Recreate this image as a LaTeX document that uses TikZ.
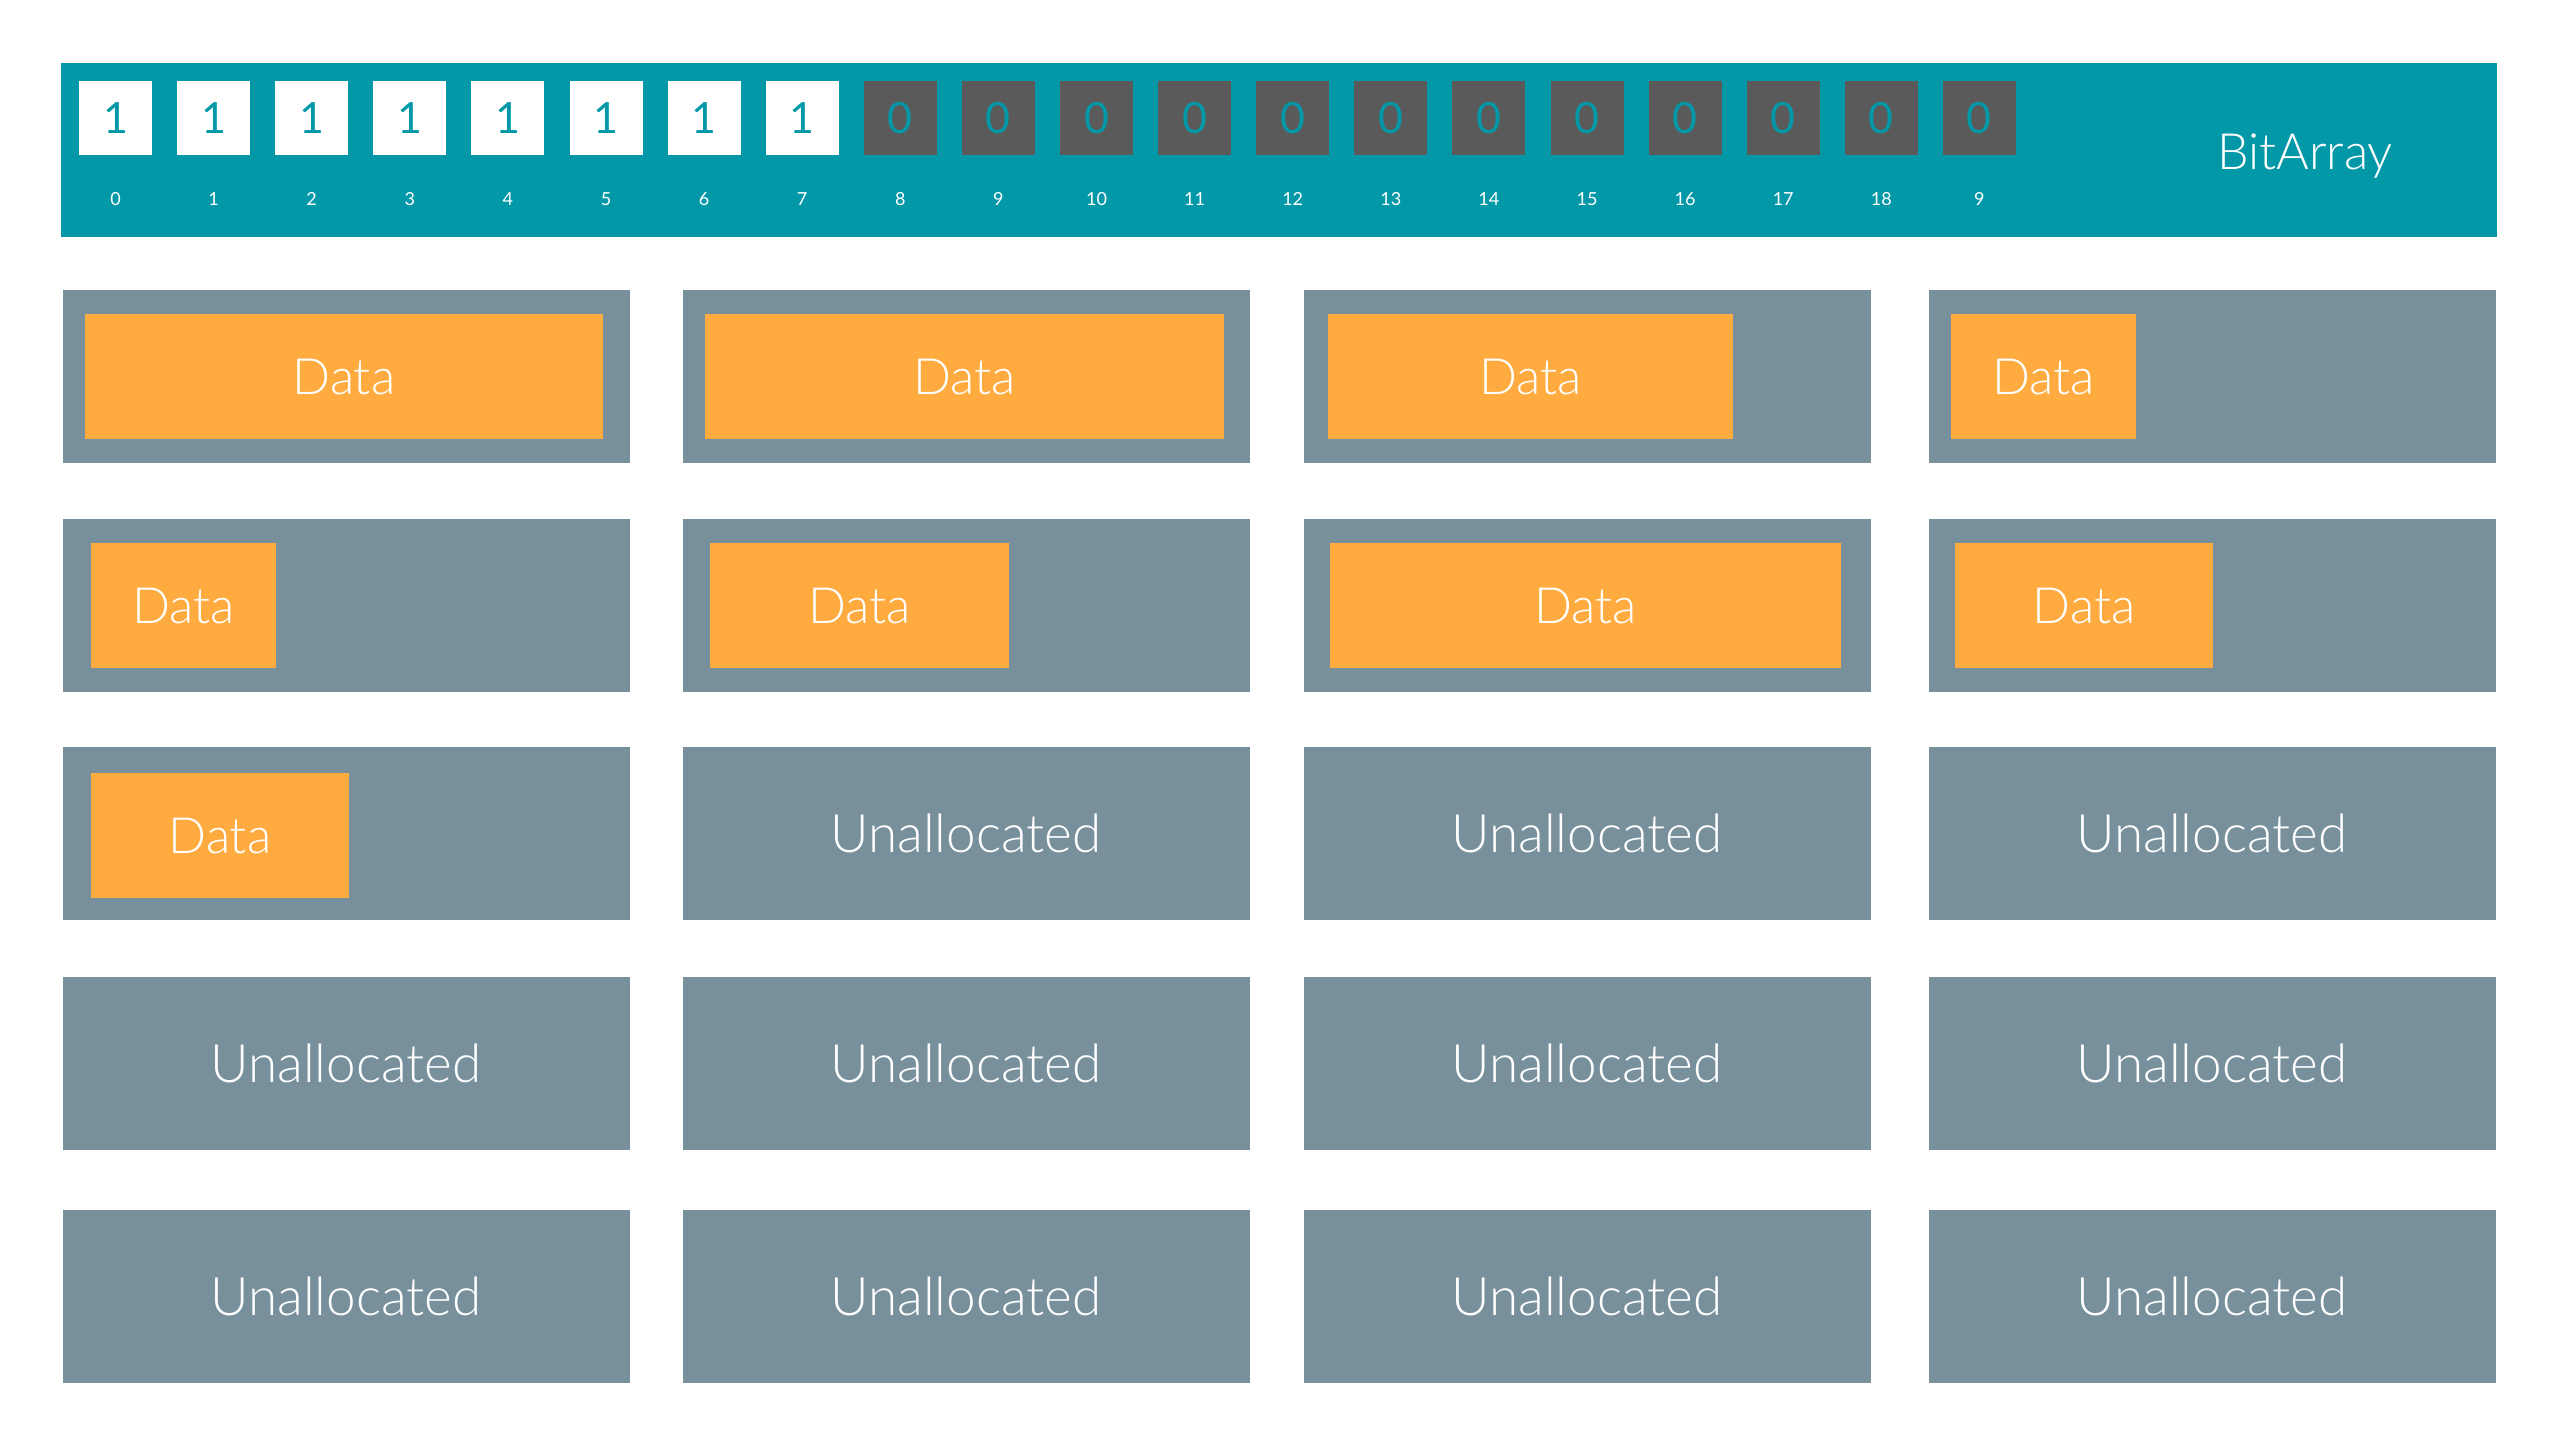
\documentclass[tikz,border=0pt]{standalone}
\usepackage{fontspec}
\IfFontExistsTF{Lato Light}{\setmainfont{Lato Light}}{\setmainfont{Lato}}
\newfontfamily\latoreg{Lato}
\definecolor{barteal}{HTML}{0398A8}
\definecolor{slate}{HTML}{78909C}
\definecolor{amber}{HTML}{FFAB40}
\definecolor{darkcell}{HTML}{5A5A5A}
\begin{document}
\begin{tikzpicture}[x=1pt,y=-1pt,
  bar/.style={fill=barteal, draw=none, inner sep=0pt, outer sep=0pt, minimum width=2436pt, minimum height=174pt},
  bitcell/.style={draw=none, inner sep=0pt, outer sep=0pt, minimum width=73pt, minimum height=74pt, text=barteal, font=\latoreg\fontsize{43}{50}\selectfont, text height=31pt, text depth=0pt},
  bitlabel/.style={inner sep=0pt, text=white, font=\latoreg\fontsize{18}{22}\selectfont, text height=13pt, text depth=0pt},
  bigtext/.style={text=white, font=\fontsize{50}{60}\selectfont, text height=36pt, text depth=0pt},
  slot/.style={fill=slate, draw=none, inner sep=0pt, outer sep=0pt, minimum width=567pt, minimum height=173pt, bigtext},
  unal/.style={slot, font=\fontsize{53}{60}\selectfont, text height=38pt},
  datab/.style={fill=amber, draw=none, inner sep=0pt, outer sep=0pt, minimum height=125pt, bigtext}]
\useasboundingbox[fill=white] (0,0) rectangle (2559,1440);
% bit array bar
\node[bar] (bar) at (1279,150) {};
\foreach \i in {0,...,19} {
  \pgfmathsetmacro\cx{115.5+98.1*\i}
  \ifnum\i<8 \def\bitfill{white}\def\bitval{1}\else\def\bitfill{darkcell}\def\bitval{0}\fi
  \ifnum\i=19 \def\lab{9}\else\edef\lab{\i}\fi
  \node[bitcell, fill=\bitfill] (b\i) at (\cx,118) {\bitval};
  \node[bitlabel] (l\i) at (\cx,198.5) {\lab};
}
\node[bigtext] (title) at (2305,151) {BitArray};
% row 1
\node[slot] (s11) at (346,376.5) {};
\node[slot] (s12) at (966,376.5) {};
\node[slot] (s13) at (1587,376.5) {};
\node[slot] (s14) at (2212,376.5) {};
\node[datab, minimum width=518pt] (d11) at (344,376) {Data};
\node[datab, minimum width=519pt] (d12) at (964.5,376) {Data};
\node[datab, minimum width=405pt] (d13) at (1530.5,376) {Data};
\node[datab, minimum width=185pt] (d14) at (2043.5,376) {Data};
% row 2
\node[slot] (s21) at (346,605) {};
\node[slot] (s22) at (966,605) {};
\node[slot] (s23) at (1587,605) {};
\node[slot] (s24) at (2212,605) {};
\node[datab, minimum width=185pt] (d21) at (183.5,605) {Data};
\node[datab, minimum width=299pt] (d22) at (859.5,605) {Data};
\node[datab, minimum width=511pt] (d23) at (1585.5,605) {Data};
\node[datab, minimum width=258pt] (d24) at (2084,605) {Data};
% row 3
\node[slot] (s31) at (346,833.5) {};
\node[datab, minimum width=258pt] (d31) at (220,835.5) {Data};
\node[unal] (s32) at (966,833.5) {Unallocated};
\node[unal] (s33) at (1587,833.5) {Unallocated};
\node[unal] (s34) at (2212,833.5) {Unallocated};
% row 4
\node[unal] (s41) at (346,1063.5) {Unallocated};
\node[unal] (s42) at (966,1063.5) {Unallocated};
\node[unal] (s43) at (1587,1063.5) {Unallocated};
\node[unal] (s44) at (2212,1063.5) {Unallocated};
% row 5
\node[unal] (s51) at (346,1296.5) {Unallocated};
\node[unal] (s52) at (966,1296.5) {Unallocated};
\node[unal] (s53) at (1587,1296.5) {Unallocated};
\node[unal] (s54) at (2212,1296.5) {Unallocated};
\end{tikzpicture}
\end{document}
